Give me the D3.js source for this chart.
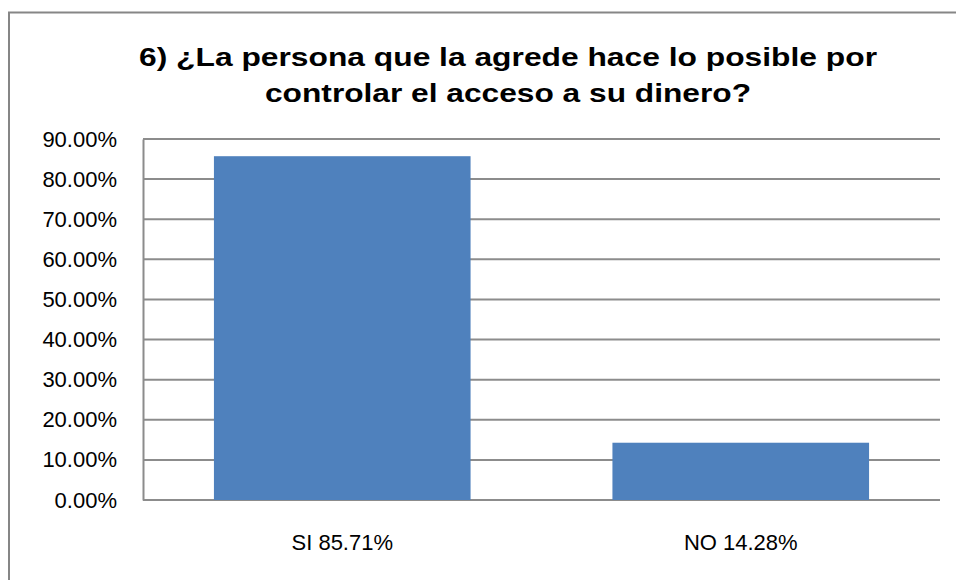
<!DOCTYPE html>
<html>
<head>
<meta charset="utf-8">
<script src="https://cdn.jsdelivr.net/npm/d3@7"></script>
<style>
  html, body { margin: 0; padding: 0; background: #fff; }
  svg { display: block; }
</style>
</head>
<body>
<div id="chart"><svg></svg></div>
<script>
const categories = ['SI 85.71%', 'NO 14.28%']
const values = [85.71, 14.28]
const yTicks = [0, 10, 20, 30, 40, 50, 60, 70, 80, 90]
const titleLines = ['6) ¿La persona que la agrede hace lo posible por', 'controlar el acceso a su dinero?']

const width = 956
const height = 580
const plot = { left: 143, right: 940, top: 139, bottom: 500 }
// the reference title looks horizontally stretched, so each line gets a fixed length
const titleWidths = [738, 486]

const svg = d3.select('#chart').select('svg')
  .attr('width', width)
  .attr('height', height)

// outer chart frame (cut by the window on the right and bottom)
svg.append('rect')
  .attr('x', 9).attr('y', 12.5)
  .attr('width', 1000).attr('height', 700)
  .attr('fill', 'none')
  .attr('stroke', '#868686')
  .attr('stroke-width', 2)

// title
svg.append('g').selectAll('text').data(titleLines).enter()
  .append('text')
  .attr('text-anchor', 'middle')
  .attr('font-family', 'Liberation Sans, Arial, sans-serif')
  .attr('font-weight', 'bold')
  .attr('font-size', '26px')
  .attr('fill', '#000')
  .attr('x', 508)
  .attr('y', (d, i) => 66 + i * 36)
  .attr('textLength', (d, i) => titleWidths[i])
  .attr('lengthAdjust', 'spacingAndGlyphs')
  .text(d => d)

let x = d3.scaleBand()
  .domain(categories)
  .range([plot.left, plot.right])
  .paddingInner(0.356)
  .paddingOuter(0.178)

let y = d3.scaleLinear()
  .domain([0, 90])
  .range([plot.bottom, plot.top])

// gridlines
svg.append('g').selectAll('line').data(yTicks).enter()
  .append('line')
  .attr('x1', plot.left).attr('x2', plot.right)
  .attr('y1', d => y(d)).attr('y2', d => y(d))
  .attr('stroke', '#8c8c8c')
  .attr('stroke-width', 2)

// bars
svg.append('g').selectAll('rect').data(values).enter()
  .append('rect')
  .attr('x', (d, i) => x(categories[i]))
  .attr('width', x.bandwidth())
  .attr('y', d => y(d))
  .attr('height', d => y(0) - y(d))
  .attr('fill', '#4f81bd')

// y axis
let yAxis = d3.axisLeft(y)
  .tickValues(yTicks)
  .tickSize(0)
  .tickPadding(26)
  .tickFormat(d => d.toFixed(2) + '%')
let yG = svg.append('g')
  .attr('transform', `translate(${plot.left},0)`)
  .call(yAxis)
yG.select('.domain').attr('stroke', '#8c8c8c').attr('stroke-width', 2)
yG.selectAll('text')
  .attr('font-family', 'Liberation Sans, Arial, sans-serif')
  .attr('font-size', '22px')
  .attr('fill', '#000')

// x axis labels
let xAxis = d3.axisBottom(x).tickSize(0).tickPadding(34)
let xG = svg.append('g')
  .attr('transform', `translate(0,${plot.bottom})`)
  .call(xAxis)
xG.select('.domain').remove()
xG.selectAll('text')
  .attr('font-family', 'Liberation Sans, Arial, sans-serif')
  .attr('font-size', '22px')
  .attr('fill', '#000')
</script>
</body>
</html>
